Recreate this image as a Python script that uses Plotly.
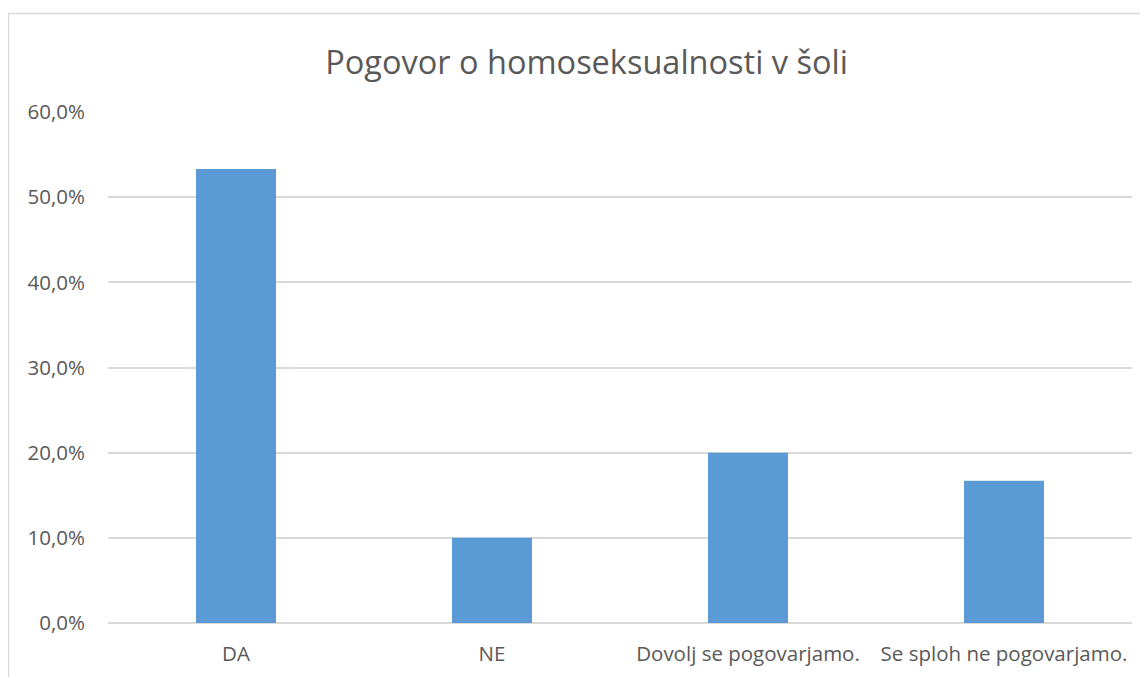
import plotly.graph_objects as go

categories = ["DA", "NE", "Dovolj se pogovarjamo.", "Se sploh ne pogovarjamo."]
values = [53.3, 10.0, 20.0, 16.7]
tick_vals = [0, 10, 20, 30, 40, 50, 60]
tick_text = ["0,0%", "10,0%", "20,0%", "30,0%", "40,0%", "50,0%", "60,0%"]
title_text = "Pogovor o homoseksualnosti v šoli"

FONT = "Open Sans, Liberation Sans, sans-serif"
TXT = "#595959"
GRID = "#D9D9D9"

fig = go.Figure(go.Bar(x=categories, y=values, marker_color="#5B9BD5", marker_line_width=0))

fig.update_layout(
    width=1148, height=677,
    margin=dict(l=100, r=24, t=104, b=62),
    paper_bgcolor="white", plot_bgcolor="white",
    bargap=0.6875,
    showlegend=False,
    title=dict(text=title_text, x=0.504, xref="container", xanchor="center",
               y=0.920, yref="container", yanchor="middle",
               font=dict(family=FONT, size=32.5, color=TXT)),
    font=dict(family=FONT, color=TXT),
    shapes=[dict(type="rect", xref="paper", yref="paper",
                 x0=-0.0972, x1=1.2, y0=-0.3, y1=1.1928,
                 line=dict(color=GRID, width=1.5), fillcolor="rgba(0,0,0,0)", layer="below")],
)
fig.update_yaxes(range=[0, 60], tickvals=tick_vals, ticktext=tick_text,
                 showgrid=True, gridcolor=GRID, gridwidth=1.5,
                 zeroline=True, zerolinecolor=GRID, zerolinewidth=1.5,
                 showline=False, ticks="", ticklabelstandoff=22,
                 tickfont=dict(family=FONT, size=20.5, color=TXT))
fig.update_xaxes(showgrid=False, showline=False, ticks="", ticklabelstandoff=16,
                 tickfont=dict(family=FONT, size=20.5, color=TXT))

fig.write_html("out.html")
